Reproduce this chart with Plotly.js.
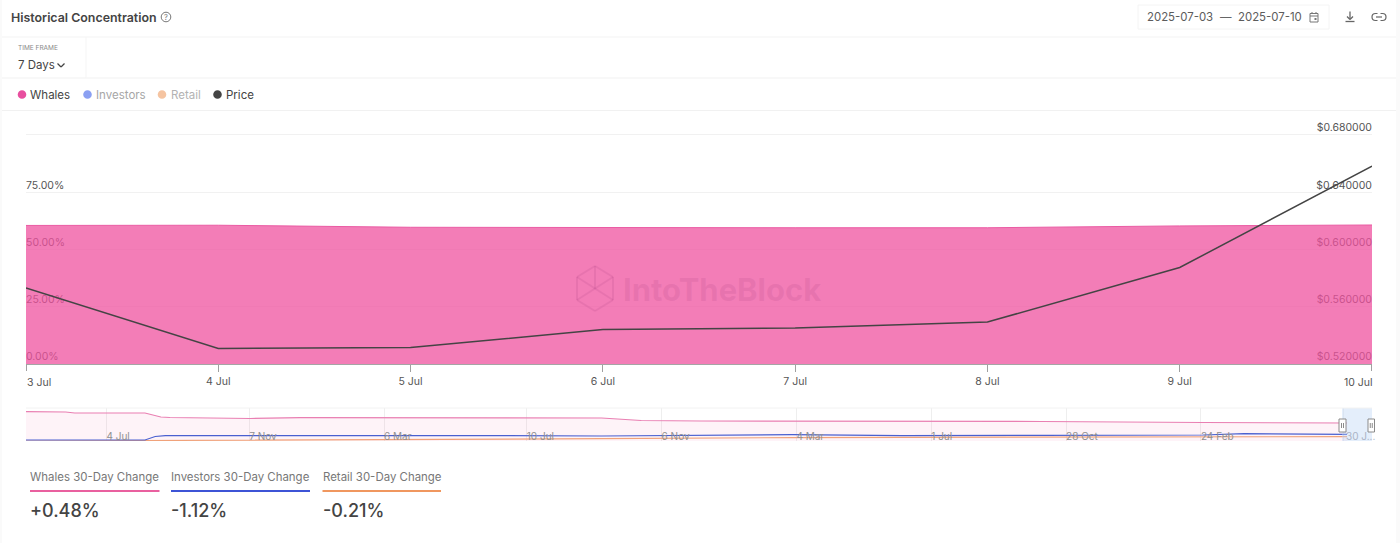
<!DOCTYPE html>
<html><head><meta charset="utf-8">
<script src="https://cdn.plot.ly/plotly-3.0.1.min.js"></script>
<style>html,body{margin:0;padding:0;background:#fff;overflow:hidden}</style></head>
<body><div id="chart" style="width:1400px;height:543px"></div>
<script>
// ---- data ----
const days = ['2025-07-03','2025-07-04','2025-07-05','2025-07-06','2025-07-07','2025-07-08','2025-07-09','2025-07-10'];
const dayLabels = ['3 Jul','4 Jul','5 Jul','6 Jul','7 Jul','8 Jul','9 Jul','10 Jul'];
const whales = [60.5,60.6,59.7,59.5,59.5,59.5,60.3,60.7];
const price = [0.5731,0.5308,0.5315,0.5441,0.5452,0.5493,0.5874,0.6583];
const pctTicks = [0,25,50,75];
const pctLabels = ['0.00%','25.00%','50.00%','75.00%'];
const priceTicks = [0.52,0.56,0.60,0.64,0.68];
const priceLabels = ['$0.520000','$0.560000','$0.600000','$0.640000','$0.680000'];

const miniWhaleDates = ['2022-04-24','2022-05-29','2022-06-06','2022-08-07','2022-08-21','2022-08-29','2022-11-08','2022-12-22','2023-09-14','2023-10-19','2023-12-11','2024-04-22','2024-10-07','2025-02-26','2025-07-03'];
const miniWhales = [98.8,97.8,94.4,94.4,80.9,79.3,75.9,78.6,77.6,69.1,67.5,67.5,65.8,62.4,60.7];
const miniInvestorDates = ['2022-04-24','2022-05-24','2022-06-11','2022-07-07','2022-08-07','2022-08-16','2022-08-25','2023-06-17','2023-09-14','2024-02-29','2024-06-05','2024-10-07','2025-02-26','2025-04-03','2025-07-03'];
const miniInvestors = [3.4,3.4,5.7,3.4,3.4,15.2,17.9,17.9,16.9,21.2,17.9,19.2,20.2,24.6,22.6];
const miniRetailDates = ['2022-04-24','2022-06-28','2023-06-17','2023-09-14','2024-02-29','2024-10-07','2025-07-03'];
const miniRetail = [0,1,4.4,7.8,11.5,13.5,14.8];
const miniTicks = ['2022-07-04','2022-11-07','2023-03-06','2023-07-10','2023-11-06','2024-03-04','2024-07-01','2024-10-28','2025-02-24','2025-06-30'];
const miniTickLabels = ['4 Jul','7 Nov','6 Mar','10 Jul','6 Nov','4 Mar','1 Jul','28 Oct','24 Feb','30 J...'];

const legendNames = ['Whales','Investors','Retail','Price'];
const statNames = ['Whales 30-Day Change','Investors 30-Day Change','Retail 30-Day Change'];
const statValues = ['+0.48%','-1.12%','-0.21%'];

// ---- page geometry helpers ----
const W = 1400, H = 543;
const FONT = 'Inter, "Noto Sans", sans-serif';
const fx = x => x / W, fy = y => 1 - y / H;
const shapes = [], annos = [];
function text(t, x, y, size, color, opt) {
  opt = opt || {};
  annos.push({text: t, xref: 'paper', yref: 'paper', x: fx(x), y: fy(y), xanchor: opt.anchor || 'left', yanchor: 'middle',
    showarrow: false, borderpad: 0, borderwidth: 0, font: {family: FONT, size: size, color: color, weight: opt.weight || 400}});
}
function rect(x0, y0, x1, y1, fill, line, lw, layer) {
  shapes.push({type: 'rect', xref: 'paper', yref: 'paper', x0: fx(x0), x1: fx(x1), y0: fy(y0), y1: fy(y1),
    fillcolor: fill || 'rgba(0,0,0,0)', line: {color: line || 'rgba(0,0,0,0)', width: lw === undefined ? 0 : lw}, layer: layer || 'above'});
}
function hline(x0, x1, y, color, w) {
  shapes.push({type: 'line', xref: 'paper', yref: 'paper', x0: fx(x0), x1: fx(x1), y0: fy(y), y1: fy(y), line: {color: color, width: w || 1}, layer: 'above'});
}
function seg(x0, y0, x1, y1, color, w) {
  shapes.push({type: 'line', xref: 'paper', yref: 'paper', x0: fx(x0), x1: fx(x1), y0: fy(y0), y1: fy(y1), line: {color: color, width: w || 1}, layer: 'above'});
}
function circle(cx, cy, r, fill, line, lw) {
  shapes.push({type: 'circle', xref: 'paper', yref: 'paper', x0: fx(cx - r), x1: fx(cx + r), y0: fy(cy + r), y1: fy(cy - r),
    fillcolor: fill || 'rgba(0,0,0,0)', line: {color: line || 'rgba(0,0,0,0)', width: lw || 0}, layer: 'above'});
}
function curve(points, color, w) {
  // points: [x,y] starts/lines, [cx,cy,x,y] quadratic segments, in page pixels
  let d = '';
  points.forEach((p, i) => {
    if (p.length === 2) d += (i ? ' L ' : 'M ') + fx(p[0]) + ' ' + fy(p[1]);
    else d += ' Q ' + fx(p[0]) + ' ' + fy(p[1]) + ' ' + fx(p[2]) + ' ' + fy(p[3]);
  });
  shapes.push({type: 'path', xref: 'paper', yref: 'paper', path: d, line: {color: color, width: w}, fillcolor: 'rgba(0,0,0,0)', layer: 'above'});
}

// ---- page chrome ----
rect(0, 0, 2, H, '#fafafa', null, 0, 'below');
rect(1396, 0, W, H, '#fafafa', null, 0, 'below');
hline(2, 1396, 37, '#f3f3f3');
hline(2, 1396, 78, '#f1f1f1');
hline(2, 1396, 110.5, '#f1f1f1');
seg(86, 37, 86, 78, '#f5f5f5');
text('Historical Concentration', 11, 17, 12.4, '#444444', {weight: 600});
circle(166, 17, 4.8, null, '#777777', 1);
text('?', 166, 17, 7.5, '#777777', {anchor: 'center'});
shapes.push({type: 'rect', xref: 'paper', yref: 'paper', x0: fx(1138), x1: fx(1329), y0: fy(29), y1: fy(5), line: {color: '#f4f4f4', width: 1}, fillcolor: 'rgba(0,0,0,0)', layer: 'above'});
text('2025-07-03', 1147, 17, 11.4, '#5c5c5c');
text('—', 1225.5, 17, 11.5, '#666666', {anchor: 'center'});
text('2025-07-10', 1238, 17, 11.4, '#5c5c5c');
// calendar icon
rect(1310, 13.5, 1318, 22, null, '#777777', 1);
hline(1310, 1318, 16, '#777777', 1);
seg(1312, 12, 1312, 14, '#777777', 1);
seg(1316, 12, 1316, 14, '#777777', 1);
rect(1314.5, 18, 1316.5, 20, '#777777', null, 0);
// download icon
seg(1350, 11.5, 1350, 19, '#666666', 1.3);
seg(1347, 16.5, 1350, 19.5, '#666666', 1.3);
seg(1353, 16.5, 1350, 19.5, '#666666', 1.3);
seg(1345.5, 21.5, 1354.5, 21.5, '#666666', 1.3);
// link icon
curve([[1377.5, 13.5], [1375.5, 13.5], [1372, 13.5, 1372, 17], [1372, 20.5, 1375.5, 20.5], [1377.5, 20.5]], '#666666', 1.2);
curve([[1380.5, 13.5], [1382.5, 13.5], [1386, 13.5, 1386, 17], [1386, 20.5, 1382.5, 20.5], [1380.5, 20.5]], '#666666', 1.2);
seg(1376, 17, 1382, 17, '#666666', 1.2);

text('TIME FRAME', 18, 48, 6.5, '#8a8a8a');
text('7 Days', 18, 65, 11.5, '#444444');
seg(57.5, 63.5, 61, 67, '#444444', 1.3);
seg(61, 67, 64.5, 63.5, '#444444', 1.3);

// legend
const legendDot = [22, 87.5, 162, 217.5];
const legendTextX = [30, 96, 171, 226];
const legendDotColors = ['#e84f9f', '#8ba0f2', '#f5c4a1', '#444444'];
const legendTextColors = ['#444444', '#a6a6a6', '#b3b3b3', '#444444'];
legendNames.forEach((n, i) => {
  circle(legendDot[i], 94.5, 4.3, legendDotColors[i]);
  text(n, legendTextX[i], 94.5, 11.5, legendTextColors[i]);
});

// stats
const statX0 = [30, 171, 322.5], statX1 = [159.5, 310, 441];
const statColors = ['#e9609f', '#3d54d6', '#f0975f'];
statNames.forEach((n, i) => {
  text(n, statX0[i], 477, 11.45, '#777777');
  hline(statX0[i], statX1[i], 491, statColors[i], 2);
  text(statValues[i], statX0[i], 510, 18, '#444444', {weight: 500});
});

// main x labels at edges align inward
annos.push({text: dayLabels[0], xref: 'x', yref: 'paper', x: days[0], y: fy(382), xanchor: 'left', yanchor: 'middle', showarrow: false, borderpad: 0, font: {family: FONT, size: 10.5, color: '#555555'}});
annos.push({text: dayLabels[7], xref: 'x', yref: 'paper', x: days[7], y: fy(382), xanchor: 'right', yanchor: 'middle', xshift: 1.5, showarrow: false, borderpad: 0, font: {family: FONT, size: 10.5, color: '#555555'}});
seg(26.5, 364, 26.5, 371, '#a0a0a0', 1);
seg(1371.5, 364, 1371.5, 371, '#a0a0a0', 1);

// watermark
const wm = 'rgba(190,80,145,0.22)';
text('IntoTheBlock', 623, 289, 31, wm, {weight: 700});
const hex = [[595,266],[613,277],[613,300],[595,311],[577,300],[577,277],[595,266]];
hex.slice(1).forEach((p, i) => seg(hex[i][0], hex[i][1], p[0], p[1], wm, 2));
seg(577, 277, 613, 300, wm, 2);
seg(613, 277, 577, 300, wm, 2);
seg(595, 266, 595, 289, wm, 2);

// brush on the overview
rect(1342, 408, 1372, 441, 'rgba(190,215,245,0.42)', null, 0);
[[1339, 1346], [1368, 1374.5]].forEach(h => {
  rect(h[0], 419, h[1], 432, '#ffffff', '#8a8a8a', 1);
  const c = (h[0] + h[1]) / 2;
  seg(c - 1, 423, c - 1, 428, '#8a8a8a', 1);
  seg(c + 1, 423, c + 1, 428, '#8a8a8a', 1);
});
hline(26, 1372, 408, '#f2f2f2');
// last overview label sits under the brush and would otherwise be dropped by the axis
annos.push({text: miniTickLabels[9], xref: 'x2', yref: 'paper', x: miniTicks[9], y: fy(436), xanchor: 'left', yanchor: 'middle', xshift: 1, showarrow: false, borderpad: 0, font: {family: FONT, size: 10, color: '#aab4c6'}});

// ---- traces ----
const traces = [
  {x: days, y: whales, xaxis: 'x', yaxis: 'y', mode: 'lines', name: 'Whales', fill: 'tozeroy',
   fillcolor: 'rgba(239,82,159,0.75)', line: {color: '#ea5ba3', width: 1}, hoverinfo: 'skip'},
  {x: days, y: price, xaxis: 'x', yaxis: 'y2', mode: 'lines', name: 'Price',
   line: {color: '#444444', width: 1.5}, hoverinfo: 'skip'},
  {x: miniWhaleDates, y: miniWhales, xaxis: 'x2', yaxis: 'y3', mode: 'lines', name: 'Whales overview', fill: 'tozeroy',
   fillcolor: 'rgba(239,82,159,0.07)', line: {color: '#e97fb2', width: 1.2}, hoverinfo: 'skip'},
  {x: miniRetailDates, y: miniRetail, xaxis: 'x2', yaxis: 'y3', mode: 'lines', name: 'Retail overview',
   line: {color: '#f0a27a', width: 1.2}, hoverinfo: 'skip'},
  {x: miniInvestorDates, y: miniInvestors, xaxis: 'x2', yaxis: 'y3', mode: 'lines', name: 'Investors overview',
   line: {color: '#4a60d0', width: 1.2}, hoverinfo: 'skip'}
];

const tickFont = {family: FONT, size: 10.5, color: '#555555'};
const layout = {
  width: W, height: H, margin: {l: 0, r: 0, t: 0, b: 0}, showlegend: false,
  paper_bgcolor: '#ffffff', plot_bgcolor: 'rgba(0,0,0,0)',
  font: {family: FONT},
  xaxis: {domain: [fx(26), fx(1372)], anchor: 'y', type: 'date', range: [days[0], days[7]], tickmode: 'array',
    tickvals: days, ticktext: ['', ...dayLabels.slice(1, 7), ''], ticks: 'outside', ticklen: 7, tickcolor: '#a0a0a0', tickfont: tickFont,
    showgrid: false, showline: true, linecolor: '#a5a5a5', linewidth: 1, zeroline: false, fixedrange: true},
  yaxis: {domain: [fy(364), fy(115)], anchor: 'x', range: [0, 108.73], tickmode: 'array', tickvals: pctTicks, ticktext: pctLabels,
    ticklabelposition: 'inside top', ticklabelstandoff: -3, ticklabelshift: 1.5, tickfont: tickFont, showgrid: false, zeroline: false, showline: false, ticks: '', layer: 'below traces', fixedrange: true},
  yaxis2: {domain: [fy(364), fy(115)], anchor: 'x', overlaying: 'y', side: 'right', range: [priceTicks[0], 0.69397], tickmode: 'array',
    tickvals: priceTicks, ticktext: priceLabels, ticklabelposition: 'inside top', ticklabelstandoff: -3, ticklabelshift: 1.5, tickfont: tickFont, showgrid: true, gridcolor: '#f1f1f1', gridwidth: 1,
    zeroline: false, showline: false, ticks: '', layer: 'below traces', fixedrange: true},
  xaxis2: {domain: [fx(26), fx(1372)], anchor: 'y3', type: 'date', range: ['2022-04-24', '2025-07-25'], tickmode: 'array',
    tickvals: miniTicks, ticktext: [...miniTickLabels.slice(0, 9), ''], ticklabelposition: 'inside right', ticklabelstandoff: -7, ticks: '', tickfont: {family: FONT, size: 10, color: '#909090'},
    showgrid: true, gridcolor: '#eeeeee', gridwidth: 1, showline: false, zeroline: false, fixedrange: true, layer: 'above traces'},
  yaxis3: {domain: [fy(441), fy(408)], anchor: 'x2', range: [0, 111.3], visible: false, fixedrange: true},
  shapes: shapes, annotations: annos
};
Plotly.newPlot('chart', traces, layout, {displayModeBar: false, staticPlot: true});
</script></body></html>
